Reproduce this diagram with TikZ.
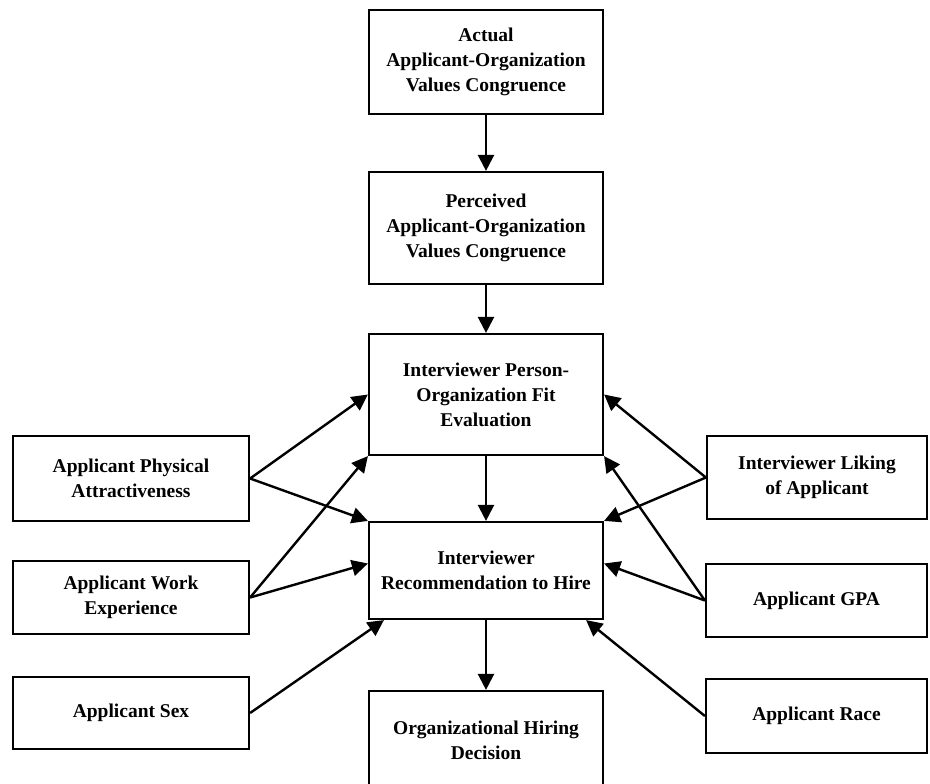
\documentclass[tikz,border=0pt]{standalone}
\usepackage{fontspec}
\setmainfont{Liberation Serif}
\usepackage{tikz}
\usetikzlibrary{arrows.meta,calc}
\tikzstyle{tsBoldText} = [
    text=black,
    font=\bfseries\fontsize{19.5}{25}\selectfont
]
\tikzstyle{tsWraptext} = [
    tsBoldText,
    align=center
]
\tikzstyle{tsBox} = [
    rectangle,
    tsWraptext,
    draw=black,
    inner sep=0pt,
    line width=2.2pt]
\tikzstyle{tsArrow} = [
    -{Triangle[length=16pt,width=16pt]},
    line width=2.4pt]

\begin{document}
\begin{tikzpicture}[x=1pt, y=-1pt]

	\useasboundingbox (0,0) rectangle (930,784);

	% middle column
	\node[  tsBox,
	        minimum width=234pt,
	        minimum height=104pt] (actual) at (486,62) {Actual\\Applicant-Organization\\Values Congruence};
	\node[  tsBox,
	        minimum width=234pt,
	        minimum height=112pt] (perceived) at (486,228) {Perceived\\Applicant-Organization\\Values Congruence};
	\node[  tsBox,
	        minimum width=234pt,
	        minimum height=121pt] (fit) at (486,394.5) {Interviewer Person-\\Organization Fit\\Evaluation};
	\node[  tsBox,
	        minimum width=234pt,
	        minimum height=97pt] (recommend) at (486,570.5) {Interviewer\\Recommendation to Hire};
	\node[  tsBox,
	        minimum width=234pt,
	        minimum height=98pt] (hiring) at (486,740) {Organizational Hiring\\Decision};

	% left column
	\node[  tsBox,
	        minimum width=236pt,
	        minimum height=85pt] (physical) at (131,478.5) {Applicant Physical\\Attractiveness};
	\node[  tsBox,
	        minimum width=236pt,
	        minimum height=73pt] (work) at (131,597.5) {Applicant Work\\Experience};
	\node[  tsBox,
	        minimum width=236pt,
	        minimum height=72pt] (sex) at (131,713) {Applicant Sex};

	% right column
	\node[  tsBox,
	        minimum width=220pt,
	        minimum height=83pt] (liking) at (817,477.5) {Interviewer Liking\\of Applicant};
	\node[  tsBox,
	        minimum width=221pt,
	        minimum height=73pt] (gpa) at (816.5,600.5) {Applicant GPA};
	\node[  tsBox,
	        minimum width=221pt,
	        minimum height=74pt] (race) at (816.5,716) {Applicant Race};

	\draw[tsArrow] (actual) -- (perceived);
	\draw[tsArrow] (perceived) -- (fit);
	\draw[tsArrow] (fit) -- (recommend);
	\draw[tsArrow] (recommend) -- (hiring);

	\draw[tsArrow] (physical.east) -- (fit.west);
	\draw[tsArrow] (physical.east) -- (recommend.north west);
	\draw[tsArrow] (work.east) -- (fit.south west);
	\draw[tsArrow] (work.east) -- ([yshift=7pt]recommend.west);
	\draw[tsArrow] (sex.east) -- ([xshift=16pt]recommend.south west);

	\draw[tsArrow] (liking.west) -- (fit.east);
	\draw[tsArrow] (liking.west) -- (recommend.north east);
	\draw[tsArrow] (gpa.west) -- (fit.south east);
	\draw[tsArrow] (gpa.west) -- ([yshift=7pt]recommend.east);
	\draw[tsArrow] (race.west) -- ([xshift=-18pt]recommend.south east);

\end{tikzpicture}
\end{document}
